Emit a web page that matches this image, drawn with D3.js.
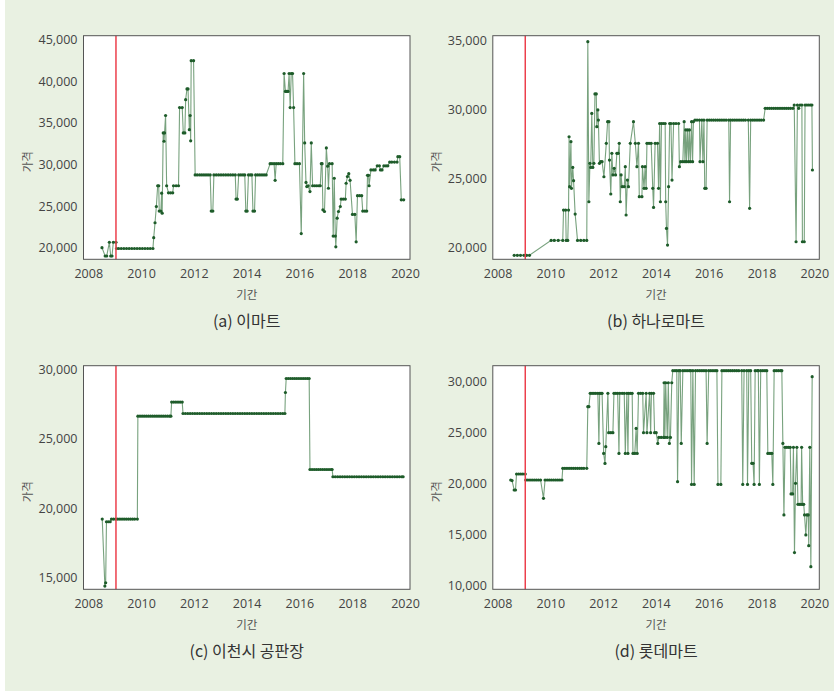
<!DOCTYPE html>
<html>
<head>
<meta charset="utf-8">
<script src="https://cdn.jsdelivr.net/npm/d3@7"></script>
<style>
  body { margin: 0; background: #ffffff; }
  .tick text { font-family: "Open Sans", sans-serif; font-size: 12.5px; fill: #444; }
  .axis-label { font-family: "Noto Sans CJK KR", sans-serif; font-size: 11.5px; fill: #555; }
  .caption { font-family: "Noto Sans CJK KR", sans-serif; font-size: 16px; fill: #333; }
</style>
</head>
<body>
<div id="chart"></div>
<script>
// [year, price]
const emartData = [
  [2008.52,20000],[2008.64,19000],[2008.7,19000],[2008.8,20650],[2008.85,19000],[2008.9,19000],[2008.95,20650],[2009.05,20650],
  [2009.07,19900],[2009.15,19900],[2009.25,19900],[2009.35,19900],[2009.45,19900],[2009.55,19900],[2009.65,19900],[2009.75,19900],
  [2009.85,19900],[2009.95,19900],[2010.05,19900],[2010.15,19900],[2010.25,19900],[2010.35,19900],[2010.45,19900],
  [2010.48,21200],[2010.53,23000],[2010.58,24950],[2010.63,27450],[2010.67,27450],[2010.69,24400],[2010.75,24400],[2010.78,26550],
  [2010.8,24150],[2010.84,33800],[2010.87,32800],[2010.89,33800],[2010.93,35900],[2010.97,27450],[2011.04,26600],[2011.12,26600],
  [2011.2,26600],[2011.23,27450],[2011.33,27450],[2011.42,27450],[2011.46,36850],[2011.56,36850],[2011.6,33800],[2011.66,33800],
  [2011.69,37800],[2011.74,39100],[2011.78,39100],[2011.83,34200],[2011.86,35900],[2011.88,32850],[2011.9,42500],[2011.99,42500],
  [2012.05,28750],[2012.13,28750],[2012.22,28750],[2012.3,28750],[2012.38,28750],[2012.46,28750],[2012.54,28750],[2012.62,28750],
  [2012.66,24400],[2012.72,24400],[2012.76,28750],[2012.85,28750],[2012.94,28750],[2013.03,28750],[2013.12,28750],[2013.21,28750],
  [2013.3,28750],[2013.39,28750],[2013.48,28750],[2013.57,28750],[2013.6,25850],[2013.65,25850],[2013.7,28750],[2013.78,28750],
  [2013.86,28750],[2013.93,28750],[2013.97,24400],[2014.02,24400],[2014.07,28750],[2014.14,28750],[2014.2,28750],[2014.24,24400],
  [2014.3,24400],[2014.34,28750],[2014.42,28750],[2014.5,28750],[2014.58,28750],[2014.66,28750],[2014.74,28750],
  [2014.89,30100],[2014.96,30100],[2015.04,30100],[2015.08,28100],[2015.12,30100],[2015.2,30100],[2015.28,30100],[2015.37,30100],
  [2015.42,40950],[2015.47,38800],[2015.52,38800],[2015.57,38800],[2015.61,40950],[2015.65,36850],[2015.69,40950],[2015.74,40950],
  [2015.78,36850],[2015.83,30100],[2015.91,30100],[2016.0,30100],[2016.07,21700],[2016.16,40950],[2016.2,32600],[2016.25,27850],
  [2016.28,27350],[2016.33,27450],[2016.4,26750],[2016.45,32600],[2016.5,27450],[2016.58,27450],[2016.66,27450],[2016.74,27450],
  [2016.79,27450],[2016.83,30100],[2016.86,30100],[2016.89,24550],[2016.95,24350],[2017.02,32000],[2017.07,29800],[2017.1,27150],
  [2017.14,30100],[2017.24,30100],[2017.28,21400],[2017.32,28350],[2017.36,21400],[2017.38,20100],[2017.43,23550],[2017.48,24350],
  [2017.55,24950],[2017.58,25850],[2017.66,25850],[2017.74,25850],[2017.77,27750],[2017.82,28550],[2017.87,28900],[2017.92,28100],
  [2018.01,24000],[2018.1,24000],[2018.15,20700],[2018.2,26250],[2018.28,26250],[2018.36,26250],[2018.4,24400],[2018.48,24400],
  [2018.55,24400],[2018.58,28700],[2018.62,28700],[2018.64,27450],[2018.71,29350],[2018.8,29350],[2018.87,29350],[2018.95,29850],
  [2019.03,29850],[2019.07,29350],[2019.13,29350],[2019.2,29850],[2019.28,29850],[2019.35,29850],[2019.42,30300],[2019.5,30300],
  [2019.6,30300],[2019.7,30300],[2019.73,30950],[2019.8,30950],[2019.86,25750],[2019.95,25750]
];

const hanaroData = [
  [2008.63,19450],[2008.75,19450],[2008.87,19450],[2009.0,19450],[2009.1,19450],[2009.21,19450],
  [2010.03,20530],[2010.15,20530],[2010.3,20530],[2010.47,20530],[2010.5,22730],[2010.58,22730],[2010.6,20530],[2010.66,20530],
  [2010.69,22730],[2010.71,28040],[2010.73,24420],[2010.78,27680],[2010.8,24300],[2010.85,25820],[2010.88,24860],[2010.94,22440],
  [2011.03,20530],[2011.15,20530],[2011.27,20530],[2011.38,20530],[2011.42,34930],[2011.46,23330],[2011.5,26110],[2011.53,25820],
  [2011.57,29730],[2011.61,25820],[2011.65,26110],[2011.69,31140],[2011.74,31140],[2011.76,28770],[2011.8,29980],[2011.82,29250],
  [2011.86,26110],[2011.91,26230],[2011.96,26230],[2012.03,25140],[2012.12,27560],[2012.17,29130],[2012.22,29130],[2012.24,26350],
  [2012.29,23890],[2012.33,26840],[2012.37,25270],[2012.42,25750],[2012.47,25270],[2012.52,26840],[2012.57,26840],[2012.61,27560],
  [2012.65,23330],[2012.68,25270],[2012.72,24420],[2012.8,24420],[2012.84,25870],[2012.87,22370],[2012.92,24900],[2012.96,24420],
  [2013.03,27560],[2013.15,29130],[2013.22,27560],[2013.28,25870],[2013.34,27560],[2013.37,23700],[2013.47,23700],[2013.49,25870],
  [2013.55,24300],[2013.59,25870],[2013.63,24300],[2013.66,27560],[2013.74,27560],[2013.82,27560],[2013.88,24300],[2013.91,22920],
  [2013.97,27560],[2014.06,27560],[2014.1,24300],[2014.14,29000],[2014.17,23330],[2014.21,29000],[2014.28,29000],[2014.35,29000],
  [2014.37,23330],[2014.4,21400],[2014.44,20190],[2014.48,24420],[2014.52,29000],[2014.57,29000],[2014.61,24900],[2014.67,29000],
  [2014.76,29000],[2014.86,29000],[2014.89,25870],[2014.94,26230],[2015.02,26230],[2015.07,29130],[2015.1,26230],[2015.13,28530],
  [2015.16,26230],[2015.2,28530],[2015.24,26230],[2015.27,28530],[2015.31,26230],[2015.35,29130],[2015.39,26230],[2015.42,29130],
  [2015.48,29250],[2015.56,29250],[2015.65,29250],[2015.67,26230],[2015.74,29250],[2015.78,26230],[2015.82,29250],[2015.85,24300],
  [2015.9,24300],[2015.94,29250],[2016.02,29250],[2016.1,29250],[2016.18,29250],[2016.26,29250],[2016.34,29250],[2016.42,29250],
  [2016.5,29250],[2016.58,29250],[2016.66,29250],[2016.76,29250],[2016.79,23330],[2016.83,29250],[2016.91,29250],[2016.99,29250],
  [2017.07,29250],[2017.15,29250],[2017.23,29250],[2017.31,29250],[2017.39,29250],[2017.5,29250],[2017.55,22850],[2017.59,29250],
  [2017.67,29250],[2017.75,29250],[2017.83,29250],[2017.91,29250],[2017.99,29250],[2018.08,29250],[2018.14,30100],[2018.22,30100],
  [2018.3,30100],[2018.38,30100],[2018.46,30100],[2018.54,30100],[2018.62,30100],[2018.7,30100],[2018.78,30100],[2018.86,30100],
  [2018.94,30100],[2019.02,30100],[2019.1,30100],[2019.19,30100],[2019.24,30340],[2019.31,20430],[2019.36,30340],[2019.41,30100],
  [2019.46,30340],[2019.53,30340],[2019.55,20430],[2019.62,20430],[2019.65,30340],[2019.72,30340],[2019.79,30340],[2019.86,30340],
  [2019.91,30340],[2019.93,25630]
];

const icheonData = [
  [2008.53,19220],[2008.63,14400],[2008.66,14640],[2008.69,19030],[2008.76,19030],[2008.83,19030],[2008.88,19220],[2008.96,19220],
  [2009.04,19220],[2009.12,19220],[2009.2,19220],[2009.28,19220],[2009.36,19220],[2009.44,19220],[2009.52,19220],[2009.6,19220],
  [2009.68,19220],[2009.76,19220],[2009.86,19220],
  [2009.88,26630],[2009.96,26630],[2010.04,26630],[2010.12,26630],[2010.2,26630],[2010.28,26630],[2010.36,26630],[2010.44,26630],
  [2010.52,26630],[2010.6,26630],[2010.68,26630],[2010.76,26630],[2010.84,26630],[2010.92,26630],[2011.0,26630],[2011.08,26630],
  [2011.13,26630],[2011.16,27640],[2011.24,27640],[2011.32,27640],[2011.4,27640],[2011.48,27640],[2011.56,27640],
  [2011.59,26820],[2011.68,26820],[2011.77,26820],[2011.86,26820],[2011.95,26820],[2012.04,26820],[2012.13,26820],[2012.22,26820],
  [2012.31,26820],[2012.4,26820],[2012.49,26820],[2012.58,26820],[2012.67,26820],[2012.76,26820],[2012.85,26820],[2012.94,26820],
  [2013.03,26820],[2013.12,26820],[2013.21,26820],[2013.3,26820],[2013.39,26820],[2013.48,26820],[2013.57,26820],[2013.66,26820],
  [2013.75,26820],[2013.84,26820],[2013.93,26820],[2014.02,26820],[2014.11,26820],[2014.2,26820],[2014.29,26820],[2014.38,26820],
  [2014.47,26820],[2014.56,26820],[2014.65,26820],[2014.74,26820],[2014.83,26820],[2014.92,26820],[2015.01,26820],[2015.1,26820],
  [2015.19,26820],[2015.28,26820],[2015.37,26820],[2015.45,26820],
  [2015.47,28330],[2015.5,29340],[2015.58,29340],[2015.66,29340],[2015.74,29340],[2015.82,29340],[2015.9,29340],[2015.98,29340],
  [2016.06,29340],[2016.14,29340],[2016.22,29340],[2016.3,29340],[2016.37,29340],
  [2016.4,22790],[2016.48,22790],[2016.56,22790],[2016.64,22790],[2016.72,22790],[2016.8,22790],[2016.88,22790],[2016.96,22790],
  [2017.04,22790],[2017.12,22790],[2017.2,22790],[2017.24,22790],
  [2017.27,22270],[2017.36,22270],[2017.45,22270],[2017.54,22270],[2017.63,22270],[2017.72,22270],[2017.81,22270],[2017.9,22270],
  [2017.99,22270],[2018.08,22270],[2018.17,22270],[2018.26,22270],[2018.35,22270],[2018.44,22270],[2018.53,22270],[2018.62,22270],
  [2018.71,22270],[2018.8,22270],[2018.89,22270],[2018.98,22270],[2019.07,22270],[2019.16,22270],[2019.25,22270],[2019.34,22270],
  [2019.43,22270],[2019.52,22270],[2019.61,22270],[2019.7,22270],[2019.79,22270],[2019.88,22270],[2019.93,22270]
];

const lotteData = [
  [2008.5,20360],[2008.55,20300],[2008.63,19380],[2008.68,19380],[2008.72,20950],[2008.8,20950],[2008.88,20950],[2008.96,20950],
  [2009.05,20950],[2009.07,20360],[2009.15,20360],[2009.23,20360],[2009.31,20360],[2009.39,20360],[2009.47,20360],[2009.55,20360],
  [2009.63,20360],[2009.74,18560],[2009.8,20360],[2009.88,20360],[2009.96,20360],[2010.04,20360],[2010.12,20360],[2010.2,20360],
  [2010.28,20360],[2010.36,20360],[2010.44,20360],[2010.47,21500],[2010.55,21500],[2010.63,21500],[2010.71,21500],[2010.79,21500],
  [2010.87,21500],[2010.95,21500],[2011.03,21500],[2011.11,21500],[2011.19,21500],[2011.27,21500],[2011.38,21500],
  [2011.42,27550],[2011.46,27550],[2011.51,28860],[2011.58,28860],[2011.65,28860],[2011.72,28860],[2011.8,28860],[2011.84,23950],
  [2011.87,28860],[2011.92,28860],[2011.96,28860],[2012.02,22970],[2012.07,21990],[2012.1,23630],[2012.18,28860],[2012.21,25000],
  [2012.29,25000],[2012.37,25000],[2012.41,28860],[2012.48,28860],[2012.55,28860],[2012.6,22970],[2012.63,28860],[2012.72,28860],
  [2012.8,28860],[2012.84,22970],[2012.9,28860],[2012.94,22970],[2012.97,28860],[2013.04,28860],[2013.1,28860],[2013.13,22970],
  [2013.2,22970],[2013.25,25420],[2013.29,22970],[2013.34,28860],[2013.42,28860],[2013.5,28860],[2013.53,25000],[2013.63,28860],
  [2013.66,25000],[2013.76,28860],[2013.8,25000],[2013.83,28860],[2013.91,28860],[2013.95,25000],[2014.01,25000],[2014.07,23950],
  [2014.11,24540],[2014.2,24540],[2014.29,24540],[2014.31,29900],[2014.34,24540],[2014.37,29900],[2014.43,24540],[2014.47,29900],
  [2014.51,23950],[2014.55,24540],[2014.6,29900],[2014.64,31080],[2014.72,31080],[2014.79,31080],[2014.82,20200],[2014.87,31080],
  [2014.92,31080],[2014.96,23950],[2015.02,31080],[2015.1,31080],[2015.18,31080],[2015.26,31080],[2015.32,31080],[2015.35,19930],
  [2015.4,31080],[2015.45,19930],[2015.5,31080],[2015.58,31080],[2015.66,31080],[2015.74,31080],[2015.82,31080],[2015.9,31080],
  [2015.94,23950],[2016.0,31080],[2016.08,31080],[2016.16,31080],[2016.24,31080],[2016.31,31080],[2016.35,19930],[2016.46,19930],
  [2016.5,31080],[2016.58,31080],[2016.66,31080],[2016.74,31080],[2016.82,31080],[2016.9,31080],[2016.98,31080],[2017.06,31080],
  [2017.14,31080],[2017.25,31080],[2017.29,19930],[2017.34,31080],[2017.44,31080],[2017.47,19930],[2017.52,31080],[2017.59,31080],
  [2017.63,22000],[2017.68,22000],[2017.72,19930],[2017.76,31080],[2017.84,31080],[2017.88,31080],[2017.92,19930],[2017.97,31080],
  [2018.05,31080],[2018.13,31080],[2018.2,31080],[2018.24,22970],[2018.32,22970],[2018.39,22970],[2018.43,19930],[2018.48,31080],
  [2018.56,31080],[2018.64,31080],[2018.72,31080],[2018.77,31080],[2018.81,23950],[2018.85,16930],[2018.89,23560],[2018.96,23560],
  [2019.03,23560],[2019.09,23560],[2019.12,18990],[2019.18,18990],[2019.21,23560],[2019.25,13240],[2019.29,20030],[2019.34,23560],
  [2019.38,17970],[2019.44,17970],[2019.5,17970],[2019.52,23560],[2019.56,17970],[2019.6,17970],[2019.63,16930],[2019.68,14970],
  [2019.72,16930],[2019.77,16930],[2019.79,13920],[2019.83,23560],[2019.87,11860],[2019.92,30490]
];

const yearTicks = [2008, 2010, 2012, 2014, 2016, 2018, 2020];
const emartTicks = [20000, 25000, 30000, 35000, 40000, 45000];
const hanaroTicks = [20000, 25000, 30000, 35000];
const icheonTicks = [15000, 20000, 25000, 30000];
const lotteTicks = [10000, 15000, 20000, 25000, 30000];
const captions = ["(a) 이마트", "(b) 하나로마트", "(c) 이천시 공판장", "(d) 롯데마트"];
const markerYear = 2009.05;

const W = 834, H = 691;
const pw = 326.5, ph = 223.6;

const svg = d3.select("#chart")
  .append("svg")
  .attr("width", W)
  .attr("height", H);

svg.append("rect")
  .attr("x", 5).attr("y", 0)
  .attr("width", W - 5).attr("height", H)
  .attr("fill", "#e9f1e2");

const panels = [
  {data: emartData, ticks: emartTicks, yDomain: [18600, 45500], left: 83.5, top: 35.7},
  {data: hanaroData, ticks: hanaroTicks, yDomain: [19160, 35360], left: 492.8, top: 35.7},
  {data: icheonData, ticks: icheonTicks, yDomain: [14170, 30260], left: 83.5, top: 365.7},
  {data: lotteData, ticks: lotteTicks, yDomain: [9640, 31570], left: 492.8, top: 365.7}
];

panels.forEach((p, i) => {
  const g = svg.append("g").attr("transform", `translate(${p.left},${p.top})`);

  const x = d3.scaleLinear().domain([2007.82, 2020.19]).range([0, pw]);
  const y = d3.scaleLinear().domain(p.yDomain).range([ph, 0]);

  g.append("rect")
    .attr("width", pw).attr("height", ph)
    .attr("fill", "#ffffff");

  const line = d3.line()
    .x(d => x(d[0]))
    .y(d => y(d[1]));

  g.append("path")
    .datum(p.data)
    .attr("d", line)
    .attr("fill", "none")
    .attr("stroke", "#2f7039")
    .attr("stroke-opacity", 0.65)
    .attr("stroke-width", 1.1);

  g.selectAll(".dot")
    .data(p.data)
    .join("circle")
    .attr("class", "dot")
    .attr("cx", d => x(d[0]))
    .attr("cy", d => y(d[1]))
    .attr("r", 1.6)
    .attr("fill", "#1e5c2a");

  g.append("line")
    .attr("x1", x(markerYear)).attr("x2", x(markerYear))
    .attr("y1", 0).attr("y2", ph)
    .attr("stroke", "#ec3f4c")
    .attr("stroke-width", 1.5);

  g.append("rect")
    .attr("width", pw).attr("height", ph)
    .attr("fill", "none")
    .attr("stroke", "#555")
    .attr("stroke-width", 1);

  const xAxis = g.append("g")
    .attr("transform", `translate(0,${ph})`)
    .call(d3.axisBottom(x).tickValues(yearTicks).tickFormat(d3.format("d")).tickSize(0).tickPadding(10));
  xAxis.select(".domain").remove();

  const yAxis = g.append("g")
    .call(d3.axisLeft(y).tickValues(p.ticks).tickFormat(d3.format(",")).tickSize(0).tickPadding(6));
  yAxis.select(".domain").remove();

  g.append("text")
    .attr("class", "axis-label")
    .attr("x", pw / 2).attr("y", ph + 40)
    .attr("text-anchor", "middle")
    .text("기간");

  g.append("text")
    .attr("class", "axis-label")
    .attr("transform", `translate(-52,126) rotate(-90)`)
    .attr("text-anchor", "middle")
    .text("가격");

  g.append("text")
    .attr("class", "caption")
    .attr("x", pw / 2).attr("y", ph + 68)
    .attr("text-anchor", "middle")
    .text(captions[i]);
});
</script>
</body>
</html>
